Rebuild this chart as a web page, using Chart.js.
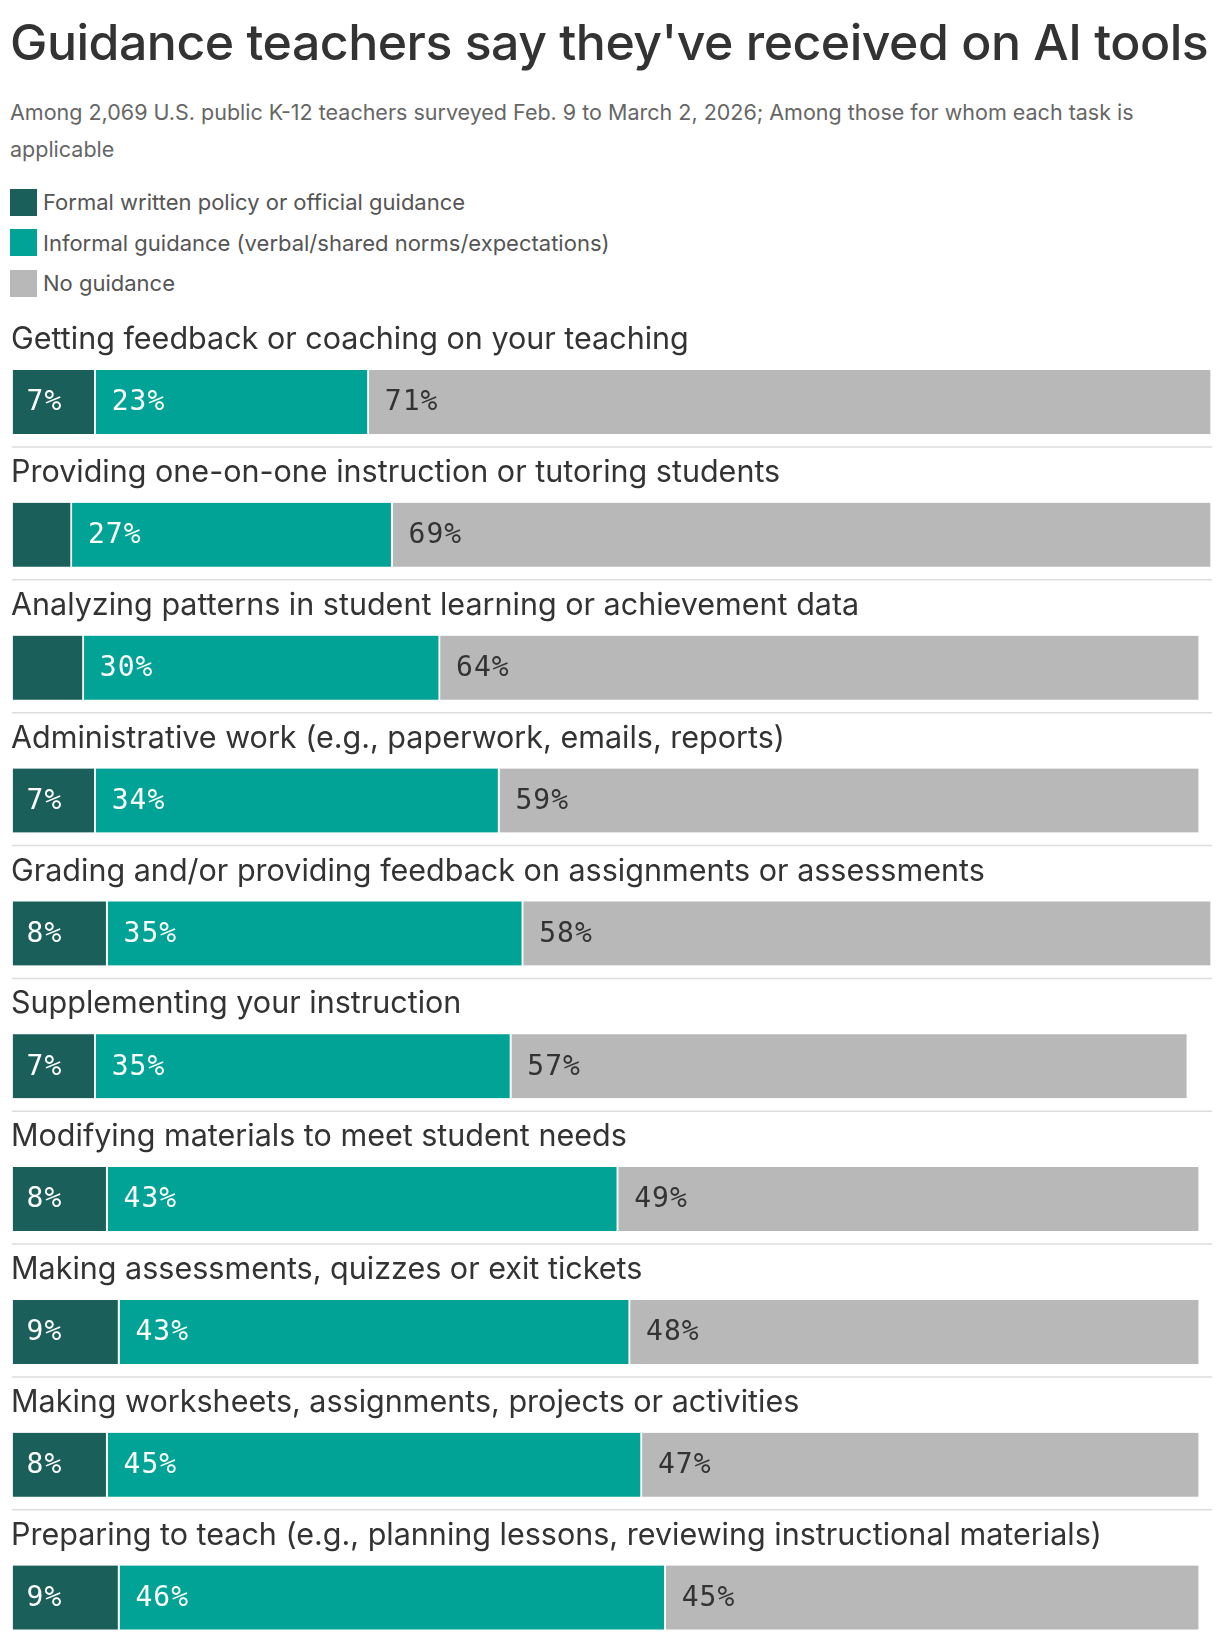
<!DOCTYPE html>
<html><head><meta charset="utf-8">
<script src="https://cdn.jsdelivr.net/npm/chart.js@4.4.1/dist/chart.umd.min.js"></script>
<style>
body{margin:0;background:#fff;font-family:Inter,"Noto Sans",sans-serif;color:#333;overflow:hidden;}
#title{position:absolute;left:10px;top:12px;font-size:50px;font-weight:500;letter-spacing:-0.5px;color:#333;white-space:nowrap;}
#sub{position:absolute;left:10px;top:94px;width:1200px;font-size:21.5px;line-height:37px;color:#666;}
#legend{position:absolute;left:10px;top:182px;font-size:22px;color:#555;}
.li{height:40.5px;display:flex;align-items:center;}
.sw{width:27px;height:27px;margin-right:6px;}
#wrap{position:absolute;left:0;top:280px;width:1220px;height:1384px;}
</style></head><body>
<div id="title">Guidance teachers say they've received on AI tools</div>
<div id="sub">Among 2,069 U.S. public K-12 teachers surveyed Feb. 9 to March 2, 2026; Among those for whom each task is applicable</div>
<div id="legend">
<div class="li"><div class="sw" style="background:#1a5f5a"></div>Formal written policy or official guidance</div>
<div class="li"><div class="sw" style="background:#00a396"></div>Informal guidance (verbal/shared norms/expectations)</div>
<div class="li"><div class="sw" style="background:#b8b8b8"></div>No guidance</div>
</div>
<div id="wrap"><canvas id="c"></canvas></div>
<script>
const categories=["Getting feedback or coaching on your teaching","Providing one-on-one instruction or tutoring students","Analyzing patterns in student learning or achievement data","Administrative work (e.g., paperwork, emails, reports)","Grading and/or providing feedback on assignments or assessments","Supplementing your instruction","Modifying materials to meet student needs","Making assessments, quizzes or exit tickets","Making worksheets, assignments, projects or activities","Preparing to teach (e.g., planning lessons, reviewing instructional materials)"];
const formal=[7,5,6,7,8,7,8,9,8,9];
const informal=[23,27,30,34,35,35,43,43,45,46];
const none=[71,69,64,59,58,57,49,48,47,45];
const seriesNames=["Formal written policy or official guidance","Informal guidance (verbal/shared norms/expectations)","No guidance"];
const colors=["#1a5f5a","#00a396","#b8b8b8"];
const labelColors=["#fff","#fff","#333"];
const plug={id:'p',afterDatasetsDraw(ch){
 const ctx=ch.ctx,y=ch.scales.y;
 ctx.save();
 ch.data.datasets.forEach((ds,di)=>{
  ch.getDatasetMeta(di).data.forEach((el,i)=>{
   const v=ds.data[i]; if(v<7) return;
   ctx.fillStyle=labelColors[di];ctx.font='500 28px "DejaVu Sans Mono",monospace';
   ctx.letterSpacing='1px';
   ctx.textBaseline='middle';ctx.textAlign='left';
   const left=Math.min(el.x,el.base);
   ctx.fillText(v+'%',left+(di==0?14:16),el.y+1);
  });
 });
 ctx.letterSpacing='0px';
 categories.forEach((c,i)=>{
  const cy=y.getPixelForValue(i);
  ctx.fillStyle='#333';ctx.font='30.5px Inter,"Noto Sans",sans-serif';
  ctx.textBaseline='middle';ctx.textAlign='left';
  ctx.fillText(c,11,cy-62);
  if(i<categories.length-1){ctx.strokeStyle='#dddddd';ctx.lineWidth=1.5;
   ctx.beginPath();ctx.moveTo(12,cy+45);ctx.lineTo(1212,cy+45);ctx.stroke();}
 });
 ctx.restore();
}};
new Chart(document.getElementById('c'),{type:'bar',
 data:{labels:categories,datasets:[formal,informal,none].map((d,i)=>({label:seriesNames[i],data:d,backgroundColor:colors[i],borderColor:'#fff',borderWidth:{left:0,top:0,bottom:0,right:2},borderSkipped:false,barThickness:64}))},
 options:{indexAxis:'y',responsive:true,maintainAspectRatio:false,animation:false,
  layout:{padding:{left:12.6,right:8,top:55.6,bottom:0}},
  plugins:{legend:{display:false},tooltip:{enabled:false}},
  scales:{x:{stacked:true,min:0,max:101,display:false},y:{stacked:true,display:false}}},
 plugins:[plug]});
</script></body></html>
